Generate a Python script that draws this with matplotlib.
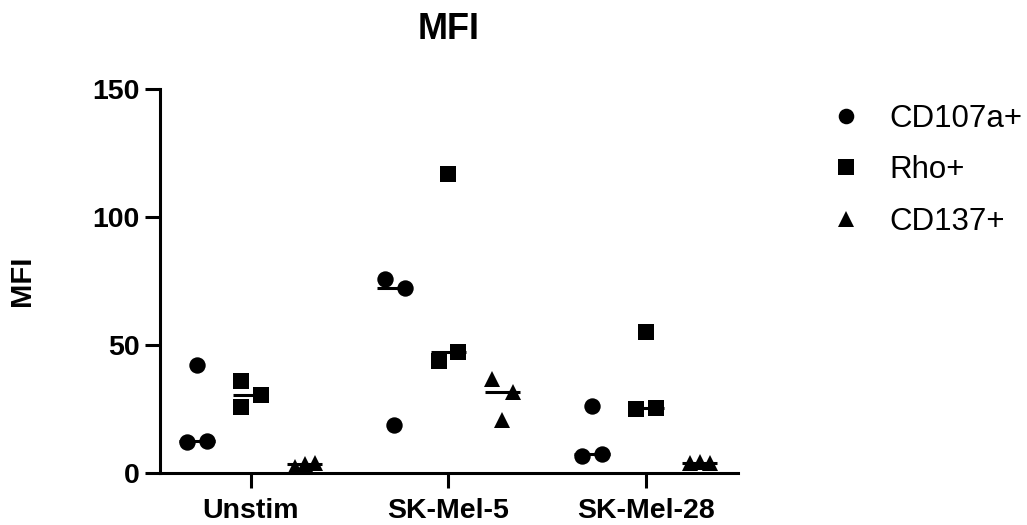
import numpy as np
import matplotlib
matplotlib.use("Agg")
import matplotlib.pyplot as plt
from matplotlib.lines import Line2D

plt.rcParams["font.family"] = ["Liberation Sans", "DejaVu Sans"]

# Stimulation conditions and measured MFI (three donors per marker)
conditions = ["Unstim", "SK-Mel-5", "SK-Mel-28"]
markers_names = ["CD107a+", "Rho+", "CD137+"]

cd107a = [[42.2, 12.3, 12.6],
          [75.6, 72.4, 18.8],
          [26.2, 6.6, 7.4]]
rho = [[36.0, 25.7, 30.5],
       [116.7, 43.8, 47.4],
       [55.2, 25.0, 25.5]]
cd137 = [[2.2, 3.6, 3.8],
         [36.6, 31.8, 20.7],
         [3.8, 4.3, 3.9]]

yticks = [0, 50, 100, 150]

# Layout: marker shapes, group offsets and horizontal spread of the points
series = [cd107a, rho, cd137]
shapes = ["o", "s", "^"]
group_offsets = [-0.273, 0.0, 0.273]
spread = {
    (0, 0): [0.0, -0.05, 0.05], (0, 1): [-0.05, -0.05, 0.05], (0, 2): [-0.05, 0.0, 0.05],
    (1, 0): [-0.05, 0.055, 0.0], (1, 1): [0.0, -0.05, 0.05], (1, 2): [-0.05, 0.055, 0.0],
    (2, 0): [0.0, -0.05, 0.05], (2, 1): [0.0, -0.05, 0.05], (2, 2): [-0.05, 0.0, 0.05],
}

W, H = 1027, 525
fig = plt.figure(figsize=(W / 100, H / 100), dpi=100)
ax = fig.add_axes([160 / W, 1 - 473 / H, (738 - 160) / W, (473 - 89) / H])

lw = 2.2
msize = 11.8
for si, (vals, shp, off) in enumerate(zip(series, shapes, group_offsets)):
    for ci, grp in enumerate(vals):
        xs = ci + off + np.array(spread[(ci, si)])
        ax.plot(xs, grp, linestyle="none", marker=shp, markersize=msize,
                color="black", markeredgewidth=0, zorder=3)
        med = np.median(grp)
        ax.hlines(med, ci + off - 0.089, ci + off + 0.089, color="black",
                  linewidth=lw, zorder=4)

ax.set_xlim(-0.46, 2.466)
ax.set_ylim(0, 150)
ax.set_yticks(yticks)
ax.set_xticks(range(len(conditions)))
ax.set_xticklabels(conditions)

for side in ["top", "right"]:
    ax.spines[side].set_visible(False)
for side in ["left", "bottom"]:
    ax.spines[side].set_linewidth(lw)
ax.tick_params(axis="both", length=10.8, width=lw, labelsize=20.5)
ax.tick_params(axis="x", pad=7)
ax.tick_params(axis="y", pad=4)
for lab in ax.get_xticklabels() + ax.get_yticklabels():
    lab.set_fontweight("bold")

ax.set_ylabel("MFI", fontsize=21, fontweight="bold")
ax.yaxis.set_label_coords(-0.2145, 0.5)
ax.set_title("MFI", fontsize=26, fontweight="bold", pad=36)

handles = [Line2D([], [], linestyle="none", marker=s, markersize=msize * 0.95,
                  color="black", markeredgewidth=0) for s in shapes]
fig.legend(handles, markers_names, loc="upper left",
           bbox_to_anchor=(830 / W, 1 - 104 / H), bbox_transform=fig.transFigure,
           frameon=False, fontsize=22.5, handlelength=1.0, handletextpad=0.9,
           labelspacing=0.68, borderpad=0, borderaxespad=0)

fig.savefig("out.png", dpi=100, facecolor="white")
